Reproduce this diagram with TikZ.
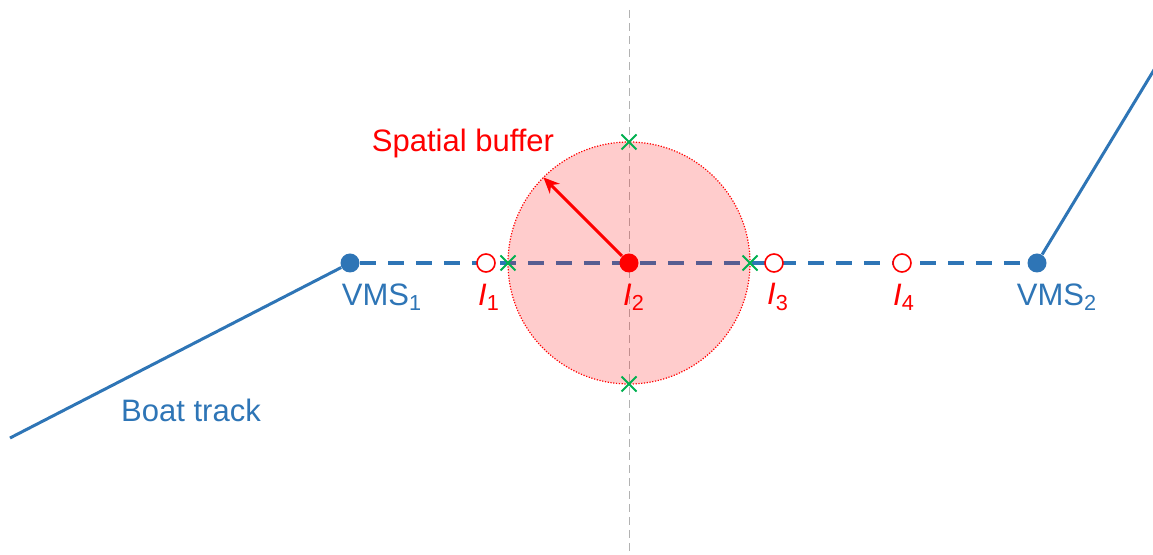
\documentclass[tikz,border=0pt]{standalone}
\usepackage{fontspec}
\setmainfont{Liberation Sans}
\usetikzlibrary{arrows.meta,shapes.misc}
\definecolor{trackblue}{RGB}{46,117,182}
\definecolor{crossgreen}{RGB}{0,176,80}

\begin{document}
\begin{tikzpicture}[x=0.5pt,y=-0.5pt,
  txt/.style={font=\fontsize{15.5}{18}\selectfont},
  vms/.style={circle,fill=trackblue,minimum size=9.5pt,inner sep=0pt},
  obs/.style={circle,draw=red,fill=white,line width=0.8pt,minimum size=9pt,inner sep=0pt},
  hit/.style={cross out,draw=crossgreen,line width=1pt,minimum size=6.5pt,inner sep=0pt}]
\useasboundingbox (0,0) rectangle (1153,555);
\draw[gray!60,line width=0.5pt,dash pattern=on 4pt off 2.5pt] (629,10) -- (629,555);
% boat track and VMS positions
\coordinate (trackstart) at (10,438);
\coordinate (trackend) at (1160,60);
\node[vms] (vms1) at (350,263) {};
\node[vms] (vms2) at (1037,263) {};
\draw[trackblue,line width=1.5pt] (trackstart) -- (vms1);
\draw[trackblue,line width=1.5pt] (vms2) -- (trackend);
\draw[trackblue,line width=2pt,dash pattern=on 8pt off 6pt] (vms1) -- (vms2);
% buffer round I2
\node[circle,draw=red,fill=red,fill opacity=0.2,draw opacity=1,line width=0.6pt,
  dash pattern=on 0.6pt off 0.8pt,minimum size=121pt,inner sep=0pt,outer sep=0pt]
  (buffer) at (629,263) {};
\node[obs] (i1) at (486,263) {};
\node[obs] (i3) at (774,263) {};
\node[obs] (i4) at (902,263) {};
\node[circle,fill=red,minimum size=9.5pt,inner sep=0pt] (i2) at (629,263) {};
\draw[red,line width=1.5pt,-{Stealth[length=8pt,width=7pt]}] (i2) -- (buffer.135);
\foreach \side in {north,south,east,west}
  \node[hit] at (buffer.\side) {};
% labels
\node[txt,text=red] (bufferlabel) at (463,143) {Spatial buffer};
\node[txt,text=trackblue] (tracklabel) at (191,410) {Boat track};
\node[txt,text=trackblue] (vms1label) at (382,297) {VMS\textsubscript{1}};
\node[txt,text=trackblue] (vms2label) at (1057,297) {VMS\textsubscript{2}};
\node[txt,text=red] (i1label) at (489,297) {\textit{I}\textsubscript{1}};
\node[txt,text=red] (i2label) at (634,297) {\textit{I}\textsubscript{2}};
\node[txt,text=red] (i3label) at (778,297) {\textit{I}\textsubscript{3}};
\node[txt,text=red] (i4label) at (904,297) {\textit{I}\textsubscript{4}};
\end{tikzpicture}
\end{document}
